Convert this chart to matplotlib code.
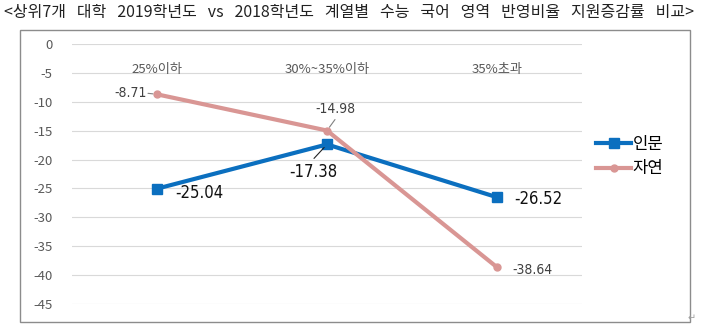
import matplotlib
matplotlib.use("Agg")
import matplotlib.pyplot as plt
from matplotlib.patches import Rectangle

plt.rcParams['font.family'] = ['Noto Sans CJK KR', 'DejaVu Sans']

title = "<상위7개 대학 2019학년도 vs 2018학년도 계열별 수능 국어 영역 반영비율 지원증감률 비교>"
categories = ["25%이하", "30%~35%이하", "35%초과"]
series_names = ["인문", "자연"]
humanities = [-25.04, -17.38, -26.52]
natural = [-8.71, -14.98, -38.64]
yticks = [0, -5, -10, -15, -20, -25, -30, -35, -40, -45]

blue = "#0B6FBF"
pink = "#D99694"
label_font = dict(family=['DejaVu Sans'], fontstretch='condensed')

fig = plt.figure(figsize=(7.01, 3.32), dpi=100)
W, H = 701, 332

# chart border
fig.patches.append(Rectangle((20 / W, 1 - 322 / H), 670 / W, 292 / H,
                             transform=fig.transFigure, fill=False,
                             edgecolor="#8C8C8C", linewidth=1.0))

fig.text(4 / W, 1 - 13 / H, title.replace(" ", "   "), fontsize=11.5, ha="left",
         va="center", color="#222222", family=['Noto Sans CJK KR', 'DejaVu Sans'])

ax = fig.add_axes([72 / W, 1 - 304 / H, 510 / W, 260 / H])
ax.set_xlim(-0.5, 2.5)
ax.set_ylim(-45, 0)
ax.set_yticks(yticks)
ax.set_yticklabels([str(v) for v in yticks])
ax.set_xticks([])
for s in ax.spines.values():
    s.set_visible(False)
ax.tick_params(axis="y", length=0, pad=14, labelsize=9.5, labelcolor="#595959")
ax.grid(axis="y", color="#D9D9D9", linewidth=0.8)
ax.set_axisbelow(True)

x = list(range(len(categories)))
for i, c in enumerate(categories):
    ax.text(i, -4.4, c, ha="center", va="center", fontsize=9.5, color="#595959")

l1, = ax.plot(x, humanities, color=blue, linewidth=3, marker="s", markersize=7.5,
              label=series_names[0], zorder=3)
l2, = ax.plot(x, natural, color=pink, linewidth=3, marker="o", markersize=5,
              label=series_names[1], zorder=3)

# data labels
hum_off = [(18, -4, "left"), (-14, -28, "center"), (17, -2, "left")]
nat_off = [(-10, 1, "right"), (8, 22, "center"), (15, -3, "left")]
for i, v in enumerate(humanities):
    dx, dy, ha = hum_off[i]
    ax.annotate(f"{v:.2f}", (i, v), xytext=(dx, dy), textcoords="offset pixels",
                ha=ha, va="center", fontsize=12, color="#111111", **label_font)
for i, v in enumerate(natural):
    dx, dy, ha = nat_off[i]
    ax.annotate(f"{v:.2f}", (i, v), xytext=(dx, dy), textcoords="offset pixels",
                ha=ha, va="center", fontsize=10, color="#404040", **label_font)

# leader lines
ax.annotate("", (1, humanities[1]), xytext=(-13, -14), textcoords="offset pixels",
            arrowprops=dict(arrowstyle="-", color="#222222", lw=0.8, shrinkA=0, shrinkB=3))
ax.annotate("", (1, natural[1]), xytext=(8, 11), textcoords="offset pixels",
            arrowprops=dict(arrowstyle="-", color="#808080", lw=0.8, shrinkA=0, shrinkB=3))
ax.annotate("", (0, natural[0]), xytext=(-9, 1), textcoords="offset pixels",
            arrowprops=dict(arrowstyle="-", color="#808080", lw=0.8, shrinkA=0, shrinkB=3))

fig.legend(handles=[l1, l2], loc="upper left", bbox_to_anchor=(596 / W, 1 - 136 / H),
           frameon=False, fontsize=12, handlelength=2.1, handletextpad=0.1,
           labelspacing=0.45, borderpad=0, borderaxespad=0)

fig.text(692 / W, 1 - 318 / H, "↵", fontsize=7, color="#A0A0A0", ha="center", va="center",
         family=['DejaVu Sans'])

fig.savefig("out.png", dpi=100)
